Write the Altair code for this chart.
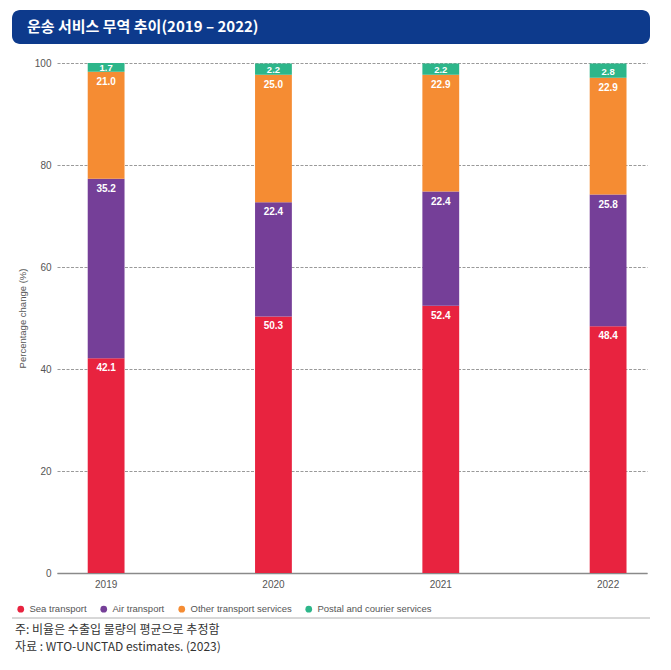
import altair as alt
import pandas as pd

years = ["2019", "2020", "2021", "2022"]
categories = ["Sea transport", "Air transport", "Other transport services", "Postal and courier services"]
sea = [42.1, 50.3, 52.4, 48.4]
air = [35.2, 22.4, 22.4, 25.8]
other = [21.0, 25.0, 22.9, 22.9]
postal = [1.7, 2.2, 2.2, 2.8]
colors = ["#E8233F", "#753F98", "#F58C33", "#2DB68A"]
y_ticks = [0, 20, 40, 60, 80, 100]

title_text = "운송 서비스 무역 추이(2019 – 2022)"
note_text = "주: 비율은 수출입 물량의 평균으로 추정함"
source_text = "자료 : WTO-UNCTAD estimates. (2023)"

rows = []
series = [sea, air, other, postal]
for i, yr in enumerate(years):
    base = 0.0
    for k, cat in enumerate(categories):
        v = series[k][i]
        rows.append({"year": yr, "cat": cat, "order": k, "value": v,
                     "y0": base, "y1": base + v, "ymid": base + v / 2,
                     "label": f"{v:.1f}"})
        base += v
df = pd.DataFrame(rows)

FONT = "Liberation Sans"
KFONT = "Noto Sans CJK KR"

xenc = alt.X("year:N", sort=years,
             scale=alt.Scale(paddingInner=0.78, paddingOuter=0.153, align=0.6),
             axis=alt.Axis(title=None, labelAngle=0, ticks=False, domain=True,
                           domainColor="#8a8a8a", domainWidth=1.5, labelPadding=6,
                           labelFontSize=10, labelColor="#555555", labelFont=FONT,
                           grid=False))
yscale = alt.Scale(domain=[0, 100], nice=False)

bars = alt.Chart(df).mark_bar().encode(
    x=xenc,
    y=alt.Y("y1:Q", scale=yscale,
            axis=alt.Axis(values=y_ticks, title="Percentage change (%)", grid=True,
                          gridColor="#9a9a9a", gridDash=[3, 1.5], gridWidth=1,
                          domain=False, ticks=False, labelPadding=6,
                          labelFontSize=10, labelColor="#555555", labelFont=FONT,
                          titleFont=FONT, titleFontSize=9.5, titleFontWeight="normal",
                          titleColor="#555555", titlePadding=7)),
    y2="y0:Q",
    color=alt.Color("cat:N", sort=categories,
                    scale=alt.Scale(domain=categories, range=colors),
                    legend=alt.Legend(title=None, orient="none", direction="horizontal",
                                      legendX=-41, legendY=541, symbolType="circle",
                                      symbolSize=45, symbolStrokeWidth=0, symbolOpacity=1,
                                      labelFont=FONT, labelFontSize=9.5, labelColor="#555555",
                                      labelOffset=4, columnPadding=12, padding=0)),
    order=alt.Order("order:Q"),
)

labels_main = alt.Chart(df[df["order"] < 3]).mark_text(
    color="white", font=FONT, fontWeight="bold", fontSize=10, baseline="middle", dy=10
).encode(x=alt.X("year:N", sort=years), y=alt.Y("y1:Q", scale=yscale), text="label:N")

labels_top = alt.Chart(df[df["order"] == 3]).mark_text(
    color="white", font=FONT, fontWeight="bold", fontSize=9.5, baseline="middle", dy=1
).encode(x=alt.X("year:N", sort=years), y=alt.Y("ymid:Q", scale=yscale), text="label:N")

one = pd.DataFrame({"t": [title_text]})
title_bar = alt.Chart(one).mark_rect(color="#0D3A8C", cornerRadius=8).encode(
    x=alt.value(-45), x2=alt.value(593), y=alt.value(-53), y2=alt.value(-19))
title = alt.Chart(one).mark_text(
    color="white", font=KFONT, fontSize=15, fontWeight="bold", align="left", baseline="middle"
).encode(x=alt.value(-30), y=alt.value(-36), text="t:N")

sep = alt.Chart(one).mark_rule(color="#b0b0b0", strokeWidth=1).encode(
    x=alt.value(-45), x2=alt.value(593), y=alt.value(555))

notes = pd.DataFrame({"t": [note_text, source_text], "py": [567, 584]})
foot = alt.Chart(notes).mark_text(
    color="#333333", font=KFONT, fontSize=12, align="left", baseline="middle"
).encode(x=alt.value(-42), y=alt.Y("py:Q", scale=None), text="t:N")

chart = alt.layer(title_bar, title, bars, labels_main, labels_top, sep, foot).properties(
    width=590, height=510,
    autosize=alt.AutoSizeParams(type="none"),
    padding={"left": 49, "top": 55, "right": 15, "bottom": 88},
).configure_view(stroke=None)

chart.save("out.html", embed_options={"renderer": "svg", "actions": False})
